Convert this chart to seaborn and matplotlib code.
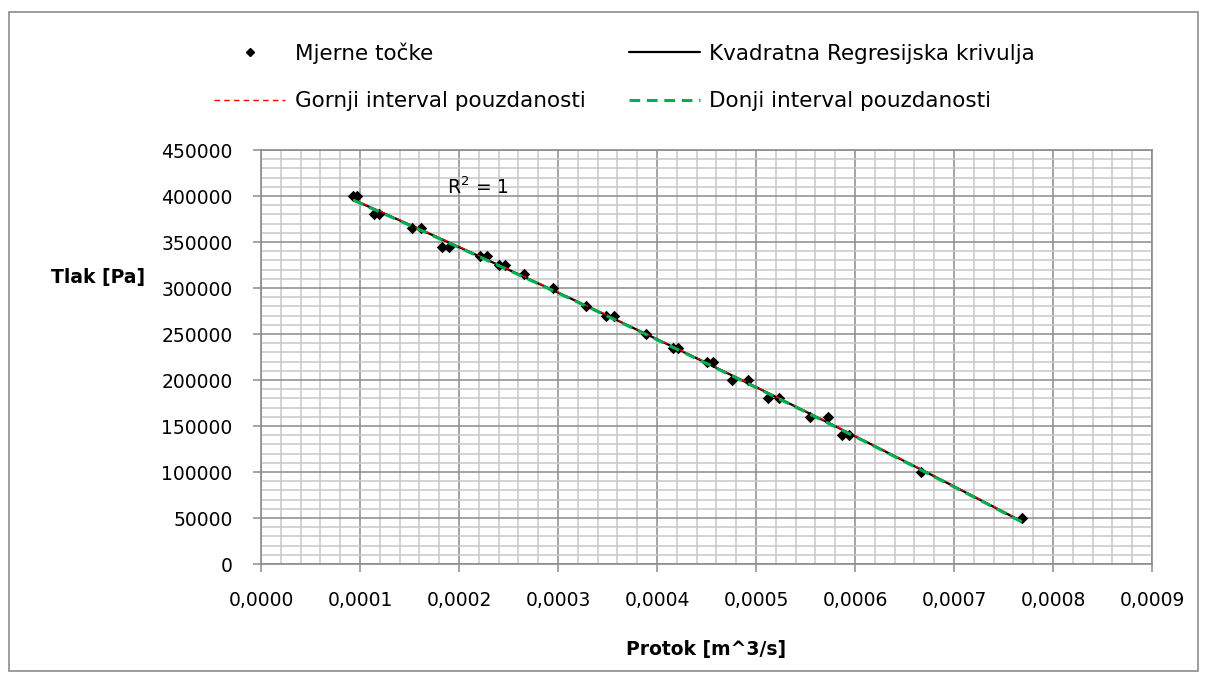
import numpy as np
import pandas as pd
import matplotlib
matplotlib.use("Agg")
import matplotlib.pyplot as plt
from matplotlib.ticker import MultipleLocator, FuncFormatter
from matplotlib.patches import Rectangle
from matplotlib.lines import Line2D
import seaborn as sns

# Measured points: flow rate [m^3/s] and pressure [Pa]
protok = [0.000093, 0.000097, 0.000114, 0.000119, 0.000153, 0.000162,
          0.000183, 0.000190, 0.000221, 0.000228, 0.000240, 0.000246,
          0.000266, 0.000295, 0.000328, 0.000348, 0.000357, 0.000389,
          0.000416, 0.000421, 0.000451, 0.000457, 0.000476, 0.000492,
          0.000512, 0.000523, 0.000555, 0.000573, 0.000587, 0.000594,
          0.000667, 0.000769]
tlak = [400000, 400000, 380000, 380000, 365000, 365000,
        345000, 345000, 335000, 335000, 325000, 325000,
        315000, 300000, 280000, 270000, 270000, 250000,
        235000, 235000, 220000, 220000, 200000, 200000,
        180000, 180000, 160000, 160000, 140000, 140000,
        100000, 50000]

# Half width of the confidence interval around the regression curve [Pa]
interval_half_width = 500

x_ticks = [0.0000, 0.0001, 0.0002, 0.0003, 0.0004, 0.0005, 0.0006, 0.0007, 0.0008, 0.0009]
y_ticks = [0, 50000, 100000, 150000, 200000, 250000, 300000, 350000, 400000, 450000]

# Quadratic regression curve and its interval bounds
x = np.array(protok)
y = np.array(tlak)
coef = np.polyfit(x, y, 2)
xs = np.linspace(x.min(), x.max(), 200)
fit = np.polyval(coef, xs)
fit_df = pd.DataFrame({"x": xs, "fit": fit,
                       "upper": fit + interval_half_width,
                       "lower": fit - interval_half_width})
pts_df = pd.DataFrame({"x": x, "y": y})
r2 = 1 - np.sum((y - np.polyval(coef, x))**2) / np.sum((y - y.mean())**2)

sns.set_theme(style="white")
plt.rcParams["font.family"] = ["DejaVu Sans"]
plt.rcParams["text.color"] = "black"
plt.rcParams["axes.labelcolor"] = "black"

fig = plt.figure(figsize=(12.08, 6.8), dpi=100)
ax = fig.add_axes([261/1208, 1 - 564/680, 891/1208, 414/680])

sns.scatterplot(data=pts_df, x="x", y="y", ax=ax, marker="D", s=34, color="black",
                edgecolor="black", linewidth=0, zorder=3, legend=False)
sns.lineplot(data=fit_df, x="x", y="fit", ax=ax, color="black", lw=1.6, zorder=4)
sns.lineplot(data=fit_df, x="x", y="upper", ax=ax, color="#FF0000", lw=1.0,
             dashes=(4, 3), zorder=5)
sns.lineplot(data=fit_df, x="x", y="lower", ax=ax, color="#00B050", lw=2.2,
             dashes=(3.5, 2.2), zorder=6)

ax.set_xlim(x_ticks[0], x_ticks[-1])
ax.set_ylim(y_ticks[0], y_ticks[-1])
ax.set_xticks(x_ticks)
ax.set_yticks(y_ticks)
ax.xaxis.set_minor_locator(MultipleLocator(0.00002))
ax.yaxis.set_minor_locator(MultipleLocator(10000))
ax.xaxis.set_major_formatter(FuncFormatter(lambda v, p: f"{v:.4f}".replace(".", ",")))
ax.yaxis.set_major_formatter(FuncFormatter(lambda v, p: f"{int(round(v))}"))

ax.grid(which="major", color="#8C8C8C", lw=1.1, zorder=0)
ax.grid(which="minor", color="#C8C8C8", lw=1.1, zorder=0)
ax.set_axisbelow(True)
for s in ax.spines.values():
    s.set_color("#8C8C8C")
    s.set_linewidth(1.2)

ax.tick_params(axis="both", which="major", length=5.5, width=1.1, color="#8C8C8C",
               labelsize=13.5, labelcolor="black", direction="out")
ax.tick_params(axis="x", which="major", pad=14, bottom=True)
ax.tick_params(axis="y", which="major", pad=15, left=True)
ax.tick_params(which="minor", length=0)

ax.set_xlabel("Protok [m^3/s]", fontsize=13.5, fontweight="bold", color="black")
ax.set_ylabel("Tlak [Pa]", fontsize=13.5, fontweight="bold", rotation=0,
              ha="center", va="center", color="black")
ax.xaxis.set_label_coords(0.5, -0.184)
ax.yaxis.set_label_coords(-0.183, 0.693)

ax.text(0.000188, 410000, f"R$^2$ = {r2:.0f}", fontsize=13.5, ha="left", va="center",
        color="black")

# Legend filled column by column, so list entries as (row1 col1, row2 col1, row1 col2, row2 col2)
handles = [
    Line2D([], [], ls="none", marker="D", ms=4.5, color="black"),
    Line2D([], [], color="#FF0000", lw=1.0, dashes=(4, 3)),
    Line2D([], [], color="black", lw=1.6),
    Line2D([], [], color="#00B050", lw=2.2, dashes=(3.5, 2.2)),
]
labels = ["Mjerne točke", "Gornji interval pouzdanosti",
          "Kvadratna Regresijska krivulja", "Donji interval pouzdanosti"]
fig.legend(handles, labels, ncol=2, loc="center", bbox_to_anchor=(0.517, 0.887),
           frameon=False, fontsize=15.5, handlelength=3.3, handletextpad=0.45,
           columnspacing=2.0, labelspacing=1.28)

fig.patches.append(Rectangle((9/1208, 1 - 671/680), 1189/1208, 659/680,
                             transform=fig.transFigure, fill=False,
                             edgecolor="#8C8C8C", lw=1.2))

fig.savefig("out.png", dpi=100, facecolor="white")
